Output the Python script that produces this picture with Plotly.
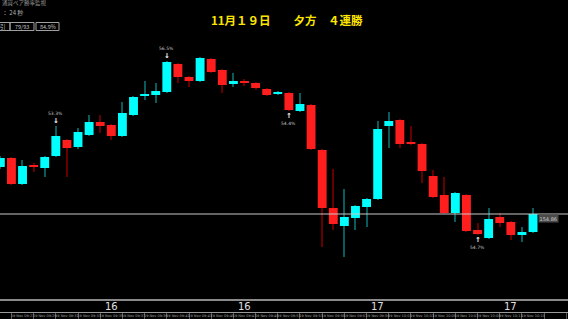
import plotly.graph_objects as go

# ---- data ----
opens = [155.33, 155.42, 155.16, 155.35, 155.32, 155.44, 155.60, 155.53, 155.65, 155.78,
         155.75, 155.64, 155.85, 156.04, 156.05, 156.08, 156.36, 156.23, 156.19, 156.41,
         156.30, 156.16, 156.19, 156.17, 156.11, 156.06, 156.07, 155.89, 155.95, 155.50,
         154.92, 154.74, 154.82, 154.93, 155.01, 155.74, 155.80, 155.58, 155.56, 155.24,
         155.05, 154.87, 155.05, 154.70, 154.62, 154.83, 154.78, 154.65, 154.68]
closes = [155.42, 155.16, 155.34, 155.33, 155.43, 155.64, 155.52, 155.68, 155.78, 155.74,
          155.64, 155.87, 156.03, 156.06, 156.09, 156.38, 156.23, 156.19, 156.42, 156.28,
          156.15, 156.19, 156.17, 156.12, 156.05, 156.08, 155.90, 155.96, 155.51, 154.92,
          154.76, 154.83, 154.94, 155.01, 155.71, 155.79, 155.56, 155.56, 155.29, 155.03,
          154.87, 155.07, 154.69, 154.66, 154.81, 154.77, 154.65, 154.68, 154.86]
highs = [155.44, 155.43, 155.40, 155.37, 155.44, 155.74, 155.61, 155.72, 155.85, 155.85,
         155.76, 155.98, 156.04, 156.19, 156.17, 156.39, 156.37, 156.24, 156.43, 156.42,
         156.31, 156.27, 156.21, 156.18, 156.12, 156.09, 156.08, 156.07, 155.96, 155.51,
         155.31, 155.11, 154.95, 155.02, 155.79, 155.88, 155.81, 155.74, 155.57, 155.30,
         155.23, 155.08, 155.06, 154.77, 154.92, 154.87, 154.79, 154.73, 154.92]
lows = [155.31, 155.15, 155.15, 155.28, 155.23, 155.43, 155.23, 155.51, 155.64, 155.67,
        155.60, 155.63, 155.84, 156.00, 155.97, 156.07, 156.17, 156.13, 156.18, 156.27,
        156.07, 156.13, 156.14, 156.10, 156.04, 156.05, 155.89, 155.88, 155.50, 154.53,
        154.70, 154.43, 154.70, 154.73, 155.00, 155.52, 155.52, 155.55, 155.17, 155.02,
        154.86, 154.78, 154.68, 154.65, 154.61, 154.73, 154.60, 154.58, 154.67]
idx = list(range(len(opens)))

level_price = 154.86
level_label = "154.86"

signal_idx = [5, 15, 26, 43]
signal_dir = ["down", "down", "up", "up"]
signal_pct = ["53.3%", "56.5%", "54.4%", "54.7%"]

time_ticks = list(range(0, len(opens), 2))
time_labels = ["19 Nov %02d:%02d" % (9 + (25 + i) // 60, (25 + i) % 60) for i in time_ticks]

period_idx = [10, 22, 34, 46]
period_labels = ["16", "16", "17", "17"]

title_text = "11月１９日　　夕方　４連勝"
stats = ["引", "79/93", "84.9%"]

# ---- styles ----
UP = "#00FFFF"
DOWN = "#FF1E1E"
UP_WICK = "#0a5c5c"
DOWN_WICK = "#640000"
W, H = 568, 319
B = 7
PH = H - B

up_flags = [c >= o for o, c in zip(opens, closes)]

fig = go.Figure()
fig.add_trace(go.Bar(
    x=idx, base=lows, y=[h - l for h, l in zip(highs, lows)], width=0.1,
    marker=dict(color=[UP_WICK if u else DOWN_WICK for u in up_flags], line=dict(width=0)),
    hoverinfo="skip"))
fig.add_trace(go.Bar(
    x=idx, base=[min(o, c) for o, c in zip(opens, closes)],
    y=[max(abs(c - o), 0.01) for o, c in zip(opens, closes)], width=0.8,
    marker=dict(color=[UP if u else DOWN for u in up_flags], line=dict(width=0)),
    hoverinfo="skip"))

def px_y(p):  # paper y from pixel row (within plot area)
    return 1 - p / PH

def px_x(p):
    return p / W

shapes = []
annotations = []
# horizontal level line
shapes.append(dict(type="line", xref="paper", yref="y", x0=0, x1=1, y0=level_price, y1=level_price,
                   line=dict(color="#c8c8c8", width=1)))
annotations.append(dict(xref="paper", yref="y", x=px_x(538), y=level_price, xanchor="left", yanchor="top",
                        text=level_label, showarrow=False, bgcolor="#4a4a4a",
                        font=dict(size=5, color="#cfcfcf", family="DejaVu Sans"), borderpad=0.5))
# bottom separator line
shapes.append(dict(type="line", xref="paper", yref="paper", x0=0, x1=1, y0=px_y(300), y1=px_y(300),
                   line=dict(color="#8a8a8a", width=2)))
for i, lab in zip(period_idx, period_labels):
    annotations.append(dict(xref="x", yref="paper", x=i, y=px_y(306), text=lab, showarrow=False,
                            xanchor="center", yanchor="middle",
                            font=dict(size=10, color="#e0e0e0", family="DejaVu Sans")))
# signals
for i, d, t in zip(signal_idx, signal_dir, signal_pct):
    if d == "down":
        annotations.append(dict(xref="x", yref="y", x=i, y=highs[i], yanchor="bottom", yshift=-1,
                                text="<b>↓</b>", showarrow=False,
                                font=dict(size=7, color="#ffffff", family="DejaVu Sans")))
        annotations.append(dict(xref="x", yref="y", x=i, y=highs[i], yanchor="bottom", yshift=8,
                                text=t, showarrow=False,
                                font=dict(size=4.5, color="#c8c8c8", family="DejaVu Sans")))
    else:
        annotations.append(dict(xref="x", yref="y", x=i, y=lows[i], yanchor="top", yshift=1,
                                text="<b>↑</b>", showarrow=False,
                                font=dict(size=7, color="#ffffff", family="DejaVu Sans")))
        annotations.append(dict(xref="x", yref="y", x=i, y=lows[i], yanchor="top", yshift=-8,
                                text=t, showarrow=False,
                                font=dict(size=4.5, color="#c8c8c8", family="DejaVu Sans")))
# title
annotations.append(dict(xref="paper", yref="paper", x=px_x(287), y=px_y(20), text="<b>" + title_text + "</b>",
                        showarrow=False, xanchor="center", yanchor="middle",
                        font=dict(size=11.5, color="#FFE600", family="Noto Sans CJK JP")))
# top-left info
annotations.append(dict(xref="paper", yref="paper", x=0, y=px_y(-3), text="通貨ペア勝率監視", showarrow=False,
                        xanchor="left", yanchor="top",
                        font=dict(size=5.5, color="#9a9a9a", family="Noto Sans CJK JP")))
annotations.append(dict(xref="paper", yref="paper", x=0, y=px_y(6), text="： 24 秒", showarrow=False,
                        xanchor="left", yanchor="top",
                        font=dict(size=6, color="#b0b0b0", family="Noto Sans CJK JP")))
cells = [(-3, 10), (10, 34), (36, 59)]
for (a, b), t in zip(cells, stats):
    shapes.append(dict(type="rect", xref="paper", yref="paper", x0=px_x(a), x1=px_x(b),
                       y0=px_y(30.5), y1=px_y(22.5), line=dict(color="#a0a0a0", width=1)))
    annotations.append(dict(xref="paper", yref="paper", x=px_x((a + b) / 2), y=px_y(26.5), text=t,
                            showarrow=False, xanchor="center", yanchor="middle",
                            font=dict(size=5.5, color="#c0c0c0", family="Noto Sans CJK JP")))

fig.update_layout(
    width=W, height=H, margin=dict(l=0, r=0, t=0, b=B),
    paper_bgcolor="#000000", plot_bgcolor="#000000",
    barmode="overlay", showlegend=False, hovermode=False,
    shapes=shapes, annotations=annotations,
    xaxis=dict(range=[-0.03, 51.15], showgrid=False, zeroline=False, showline=True,
               linecolor="#9a9a9a", linewidth=1, tickmode="array", tickvals=time_ticks,
               ticktext=time_labels, tickangle=0, ticks="", ticklen=0,
               tickfont=dict(size=3.5, color="#a0a0a0", family="DejaVu Sans"),
               minor=dict(tick0=1, dtick=2, ticks="outside", ticklen=7, tickcolor="#555555")),
    yaxis=dict(range=[157.00 - PH / 100, 157.00], visible=False, showgrid=False, zeroline=False),
)

fig.write_html("out.html")
